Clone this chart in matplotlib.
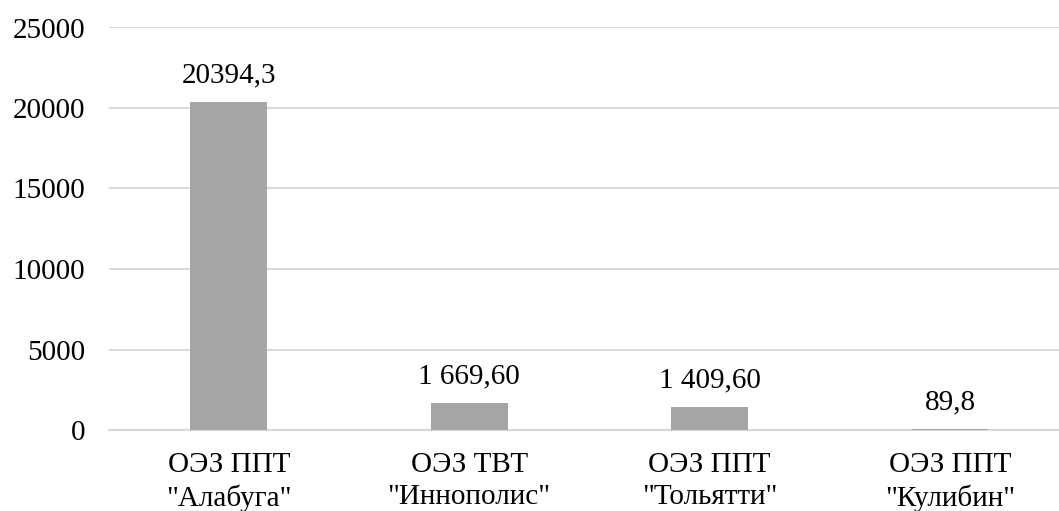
import matplotlib
matplotlib.use("Agg")
import matplotlib.pyplot as plt

categories = ['ОЭЗ ППТ\n"Алабуга"', 'ОЭЗ ТВТ\n"Иннополис"', 'ОЭЗ ППТ\n"Тольятти"', 'ОЭЗ ППТ\n"Кулибин"']
values = [20394.3, 1669.6, 1409.6, 89.8]
value_labels = ["20394,3", "1 669,60", "1 409,60", "89,8"]
yticks = [0, 5000, 10000, 15000, 20000, 25000]

plt.rcParams['font.family'] = ['Liberation Serif', 'DejaVu Serif']

W, H = 1059, 511
fig = plt.figure(figsize=(W / 100, H / 100), dpi=100)
left, right, y0, ytop = 108.6, 1070.2, 430.0, 27.5
ax = fig.add_axes([left / W, (H - y0) / H, (right - left) / W, (y0 - ytop) / H])

x = list(range(len(categories)))
bars = ax.bar(x, values, width=0.32, color="#a5a5a5", zorder=3)
ax.set_xlim(-0.5, len(categories) - 0.5)
ax.set_ylim(0, 25000)
ax.set_yticks(yticks)
ax.set_yticklabels([str(v) for v in yticks])
ax.set_xticks(x)
ax.set_xticklabels(categories, linespacing=1.3)

ax.grid(axis="y", color="#d9d9d9", linewidth=1.5, zorder=0)
for s in ["top", "right", "left"]:
    ax.spines[s].set_visible(False)
ax.spines["bottom"].set_color("#d9d9d9")
ax.spines["bottom"].set_linewidth(1.5)
ax.tick_params(axis="both", length=0, labelsize=21, colors="black")
ax.tick_params(axis="y", pad=17)
ax.tick_params(axis="x", pad=16)

for b, lab in zip(bars, value_labels):
    ax.annotate(lab, (b.get_x() + b.get_width() / 2, b.get_height()),
                xytext=(0, 14), textcoords="offset points",
                ha="center", va="baseline", fontsize=21)

fig.savefig("out.png", dpi=100)
